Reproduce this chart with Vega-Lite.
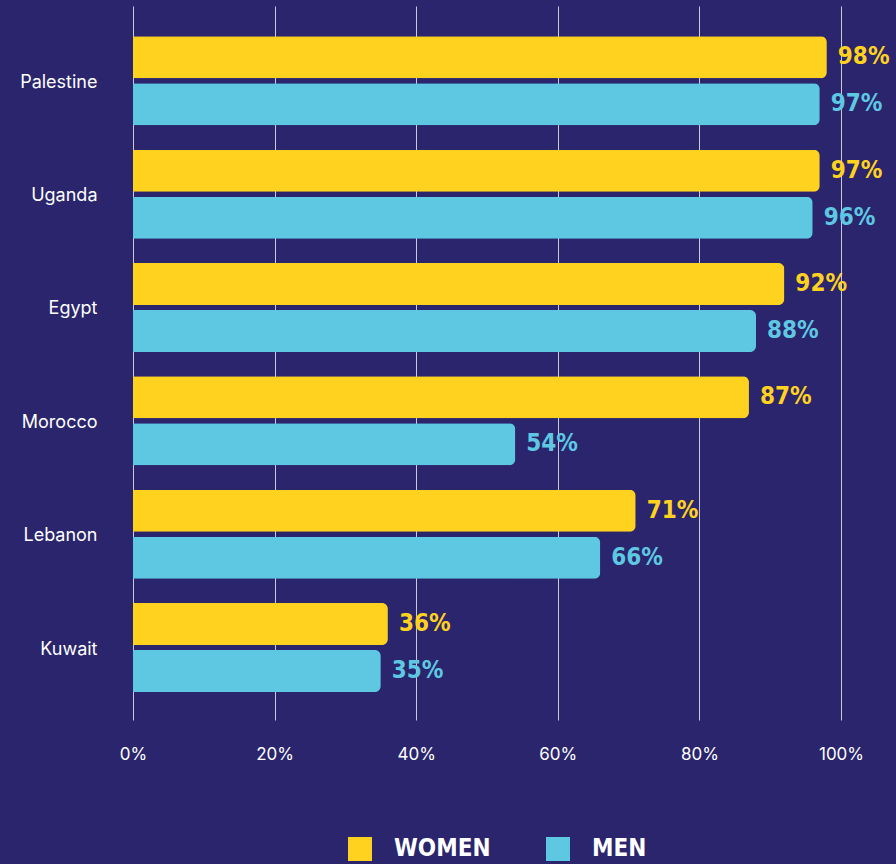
{
  "$schema": "https://vega.github.io/schema/vega-lite/v6.json",
  "width": 708,
  "height": 714,
  "autosize": "none",
  "padding": {"left": 133, "top": 6, "right": 55, "bottom": 144},
  "background": "#2A256C",
  "config": {
    "view": {"stroke": null},
    "axis": {"labelFont": "Inter", "labelColor": "#FFFFFF"}
  },
  "data": {
    "values": [
      {"country": "Palestine", "gender": "WOMEN", "value": 0.98},
      {"country": "Palestine", "gender": "MEN", "value": 0.97},
      {"country": "Uganda", "gender": "WOMEN", "value": 0.97},
      {"country": "Uganda", "gender": "MEN", "value": 0.96},
      {"country": "Egypt", "gender": "WOMEN", "value": 0.92},
      {"country": "Egypt", "gender": "MEN", "value": 0.88},
      {"country": "Morocco", "gender": "WOMEN", "value": 0.87},
      {"country": "Morocco", "gender": "MEN", "value": 0.54},
      {"country": "Lebanon", "gender": "WOMEN", "value": 0.71},
      {"country": "Lebanon", "gender": "MEN", "value": 0.66},
      {"country": "Kuwait", "gender": "WOMEN", "value": 0.36},
      {"country": "Kuwait", "gender": "MEN", "value": 0.35}
    ]
  },
  "encoding": {
    "y": {
      "field": "country",
      "type": "nominal",
      "sort": null,
      "scale": {"paddingInner": 0.2147, "paddingOuter": 0.257, "align": 0.52},
      "axis": {
        "title": null,
        "domain": false,
        "ticks": false,
        "labelPadding": 36,
        "labelOffset": 2,
        "labelFontSize": 18,
        "labelColor": "#FFFFFF"
      }
    },
    "yOffset": {
      "field": "gender",
      "type": "nominal",
      "sort": ["WOMEN", "MEN"],
      "scale": {"paddingInner": 0.106, "paddingOuter": 0}
    },
    "x": {
      "field": "value",
      "type": "quantitative",
      "scale": {"domain": [0, 1], "nice": false},
      "axis": {
        "title": null,
        "values": [0, 0.2, 0.4, 0.6, 0.8, 1],
        "format": ".0%",
        "labelFlush": false,
        "domain": false,
        "ticks": false,
        "grid": true,
        "gridColor": "#C9C8DA",
        "gridWidth": 1,
        "gridOpacity": 1,
        "labelPadding": 26,
        "labelFontSize": 17,
        "labelColor": "#FFFFFF"
      }
    }
  },
  "layer": [
    {
      "mark": {"type": "bar", "cornerRadiusEnd": 6},
      "encoding": {
        "color": {
          "field": "gender",
          "type": "nominal",
          "scale": {"domain": ["WOMEN", "MEN"], "range": ["#FFD21F", "#5EC8E2"]},
          "legend": {
            "title": null,
            "orient": "none",
            "direction": "horizontal",
            "legendX": 215,
            "legendY": 831,
            "symbolType": "square",
            "symbolSize": 576,
            "symbolStrokeWidth": 0,
            "labelFont": "DejaVu Sans Condensed, sans-serif",
            "labelFontWeight": "bold",
            "labelFontSize": 24,
            "labelColor": "#FFFFFF",
            "labelOffset": 22,
            "columnPadding": 55
          }
        }
      }
    },
    {
      "mark": {
        "type": "text",
        "align": "left",
        "baseline": "middle",
        "dx": 11,
        "font": "DejaVu Sans Condensed, sans-serif",
        "fontWeight": "bold",
        "fontSize": 24
      },
      "encoding": {
        "text": {"field": "value", "type": "quantitative", "format": ".0%"},
        "color": {"field": "gender", "type": "nominal", "legend": null}
      }
    }
  ]
}
